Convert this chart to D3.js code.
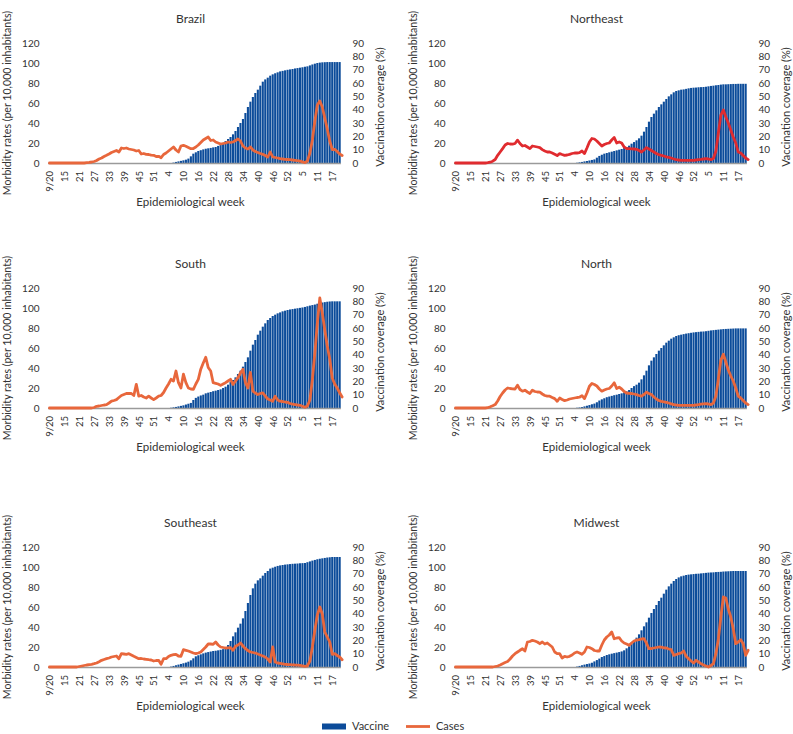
<!DOCTYPE html>
<html><head><meta charset="utf-8">
<script src="https://cdn.jsdelivr.net/npm/d3@7"></script>
<style>
body{margin:0;background:#fff;}
svg text{font-family:Lato,"Noto Sans",sans-serif;fill:#333;}
</style></head>
<body><svg id="c" width="793" height="734"></svg>
<script>
// ---- DATA ----
const weekLabels = ["9/20","15","21","27","33","39","45","51","4","10","16","22","28","34","40","46","52","5","11","17"];
const regionNames = ["Brazil","Northeast","South","North","Southeast","Midwest"];
const z = n => Array(n).fill(0);

const brazilCases = [...z(15),
 0.3,0.6,1,1.5,2.5,4,5,6.5,7.7,9,10.5,11.5,12.5,11,15,14.5,15,14,13.5,13,12,12.5,9,9.5,8.7,8.5,7.8,7.7,6.5,6.7,
 5.3,8.5,10,12,14,16,13,11,17,17.7,16.7,15.5,14.3,14.5,16,18,20.5,23,24.5,26,22.5,23,21,20,19,19.5,20,21,20.5,21,
 22.5,24,22,17,15,14,16,13,11.5,10.5,9.5,8.7,7.5,6,11,6,5.5,5,4.3,4,3.7,3.5,3.3,3,2.7,2.3,2,1.2,0.3,2,
 10,23,42,58,62,56,45,34,22,13.5,13.7,11.5,9,7.5];
const brazilVaccine = [...z(50),
 0.3,0.8,1.2,1.6,2,2.5,3.3,5,7,8,
 9,9.6,10.2,10.7,11,11.3,11.7,12,12.8,13.7,
 15,16.5,18,19.5,21.5,24,27,30,33,37.5,
 42,46,49.5,52.5,55,58,61,62.7,64,65.5,
 66.5,67.3,68,68.7,69.1,69.5,69.9,70.2,70.5,70.9,
 71.2,71.5,71.8,72.2,72.5,73.2,73.9,74.5,75,75.3,
 75.5,75.6,75.7,75.7,75.7,75.7,75.7,75.7];

const northeastCases = [...z(13),
 0.3,0.8,1.8,3.5,7.7,11,14.4,18,19.5,19,18.8,19.5,22.8,19.5,17,17.5,16,14.4,17,16.5,16,15.4,13.4,12,11,11,10,8.7,7.4,9.4,
 8.5,7.7,8,8.7,9.5,10,10,10.4,12,9.4,15,21,24.5,24,22,19.5,17,18.5,19.5,20,23,25.5,20,21,20,16,14.4,14.4,14.2,14,
 13.7,12.5,11,13,15.4,14,12.5,11,9.5,8.4,7.7,7,6.2,5.6,5,4,3.4,3,2.7,2.7,2.7,2.7,2.7,2.7,3,3.3,3.6,4,4.4,4,
 3.4,4.5,12,30,48,53,46,40,33,26,20,11,10,7.5,5,3.4];
const northeastVaccine = [...z(49),
 0.2,0.5,0.8,1.2,1.5,1.9,2.3,2.7,4,5.3,6.2,
 7,7.5,8,8.5,9,9.5,10,10.5,11.2,12,
 13,14.5,15.7,17,18.5,20.5,23.5,27,31,34.5,
 37,39.5,42,44,46,48,50,51.5,53,54,
 54.5,55,55.2,55.6,56,56.3,56.5,56.6,56.8,56.9,
 57,57.2,57.5,57.8,58,58.3,58.5,58.8,59,59,
 59.1,59.2,59.3,59.3,59.4,59.4,59.4,59.4];

const southCases = [...z(18),
 0.5,1.7,2,2.5,3,3.4,5,6.8,7.5,8.4,10.5,12.5,13.5,14.5,14.5,14.5,12.5,23.6,11.8,12.5,11,10,11.8,10,8.4,10,11.8,12.5,15.5,20,
 24,28.7,27,37,25.3,20,33.8,25.3,20,19,18.6,24,28.7,38.8,45,50.7,40.5,37,25.3,24.7,24,22.6,24,25.3,27,28.7,23.6,27,30.4,35,
 38.8,25.3,20,35.5,16.9,15,13.5,14.5,15.2,12,9,8,6.8,11.8,8,6.8,6.5,6,5.7,4.5,3.8,3.4,3,2.7,1.8,0.7,2,8,28.7,55,
 85,110,95,78,62,49,30,24,20,15.2,11];
const southVaccine = [...z(49),
 0.2,0.5,0.8,1.2,1.6,2,2.6,3.2,3.8,6,7.6,
 8.6,9.4,10,11,11.5,12,12.6,13,13.5,14,
 15,16,17.5,19.5,21,23,25.5,28,31,34.5,
 38,43,47.5,51,55,58,61,63.5,66,67.5,
 69,70,71,71.7,72.5,73,73.5,73.9,74.2,74.5,
 74.8,75.1,75.4,75.8,76.3,76.8,77.2,77.6,78.2,78.7,
 79.1,79.4,79.7,79.9,80,80,80,80];

const northCases = [...z(13),
 0.3,1.2,2.2,3.4,7,11.5,15,18,20,19.5,19.2,19,22.8,18.5,16.8,17.8,16,14.5,17.8,16.5,16,15.8,14,12.5,11.8,11.8,10.5,9.4,6.7,10,
 8.5,7.4,8,9,9.5,10,10.5,10.8,12.4,9.4,15,21.8,24.5,23.5,22,19,16.8,18,19,19.5,22,25.2,19.5,20.8,19,16.5,15,14.7,14.5,14,
 13.4,12.5,11.8,13.5,15.8,14.5,13.4,11,9,7.5,6.7,6.2,5.7,5,4.2,3.4,3,2.7,2.7,2.7,2.7,2.7,2.7,2.7,3,3.3,3.8,4.2,4.4,4,
 3.4,5,12,29,48,53.8,46,38,32,27,20,11.8,10,7.5,5,3.4];
const northVaccine = [...z(49),
 0.2,0.4,0.7,1.2,1.7,2.2,2.8,3.3,4.3,5.6,6.5,
 7.3,8.1,8.6,9.1,9.6,10,10.5,11,11.7,12.5,
 13.5,15,16.4,17.5,19,21.5,24.5,28,32,35.5,
 38,40.5,43,45,47,49,50.5,52,53,54,
 54.6,55,55.4,55.8,56.1,56.4,56.7,56.9,57.1,57.3,
 57.4,57.6,57.9,58.2,58.4,58.6,58.8,59,59.2,59.3,
 59.4,59.5,59.6,59.7,59.7,59.7,59.7,59.7];

const southeastCases = [...z(12),
 0.5,1,1.5,2,2.4,2.7,3.3,4,5.3,6.7,7.5,8.3,9,10,10.5,11,8.3,13.3,13,12.7,13.3,12,10.7,9.5,8.3,8.5,8,7.7,7.3,7,
 6,6.5,6.7,2.7,8.3,8.3,10.5,11.7,12.3,12.7,11,10.7,17.3,16.7,16,15,14,13.3,14,15,17.5,20,23,23,22.7,25,22,20,19.5,19,
 19.2,19.3,16.7,20.7,22,24,21,18.3,16.5,15,14.5,14,13,12,11,10,8,5,20,5,4,3.6,3.2,2.7,2.5,2.4,2.2,2,1.9,1.7,
 1.2,0.7,1.2,6,20,37,52,60,53,35,30,25,12.7,13.3,11.5,10,7.3];
const southeastVaccine = [...z(49),
 0.3,0.8,1.3,1.8,2.3,2.8,3.3,4,5,6.5,8,
 8.8,9.5,10.2,10.8,11.2,11.6,12,12.2,12.5,12.9,
 13.4,14,16.5,19.5,23,26,29.5,32.5,36.5,42,
 48,54,59,62.5,65,66.5,68.5,70.5,72,73.8,
 74.5,75.2,75.8,76.2,76.5,76.8,77,77.2,77.4,77.5,
 77.6,77.8,77.9,78,78.6,79.2,79.8,80.3,80.8,81.2,
 81.5,81.8,82.1,82.3,82.5,82.5,82.5,82.5];

const midwestCases = [...z(16),
 0.5,1,2,3.3,4.5,5.5,8,11,13.3,15,16.7,18.3,16,25,25.5,26.7,26,25,23.3,25,23,24,22,20,15,13.3,13.3,9,10.7,10,
 10.7,12,14,15,14,12.7,15,20,19.5,18.3,16.5,16,16,22,27,30,32,35,28.3,29,29.3,26,24,23,21.7,24,26,27,27.3,28,
 28.3,24,18.3,18.5,19,19.5,20,19.8,19.2,19,18,17.3,11.7,12.5,13.3,14,16,10.7,8.3,6,4,6.7,5,3.3,2,1,0,1.5,3.3,13.3,
 28,50,70,69,58,50,38.3,23.3,25,27.3,23.3,11.7,16.7];
const midwestVaccine = [...z(49),
 0.3,0.8,1.3,1.8,2.2,2.6,3.2,4.2,5.2,6.3,7.5,
 8.2,9,9.5,10,10.4,10.8,11.2,11.7,12.5,14,
 15.5,17.5,19.5,22,24.5,27.5,30.5,33.5,37,40.5,
 43.5,46.5,49.5,52,55,58,60.5,62.5,64.5,66,
 67.2,68,68.5,69,69.3,69.5,69.7,69.9,70,70.2,
 70.4,70.6,70.8,70.9,71,71.2,71.3,71.4,71.6,71.7,
 71.8,71.9,72,72,72,72,72,72];

const casesSeries = [brazilCases, northeastCases, southCases, northCases, southeastCases, midwestCases];
const vaccineSeries = [brazilVaccine, northeastVaccine, southVaccine, northVaccine, southeastVaccine, midwestVaccine];
const lineColors = ["#e8673c","#e02b2f","#e8673c","#e8673c","#e8673c","#e8673c"];
const leftTicks = [0,20,40,60,80,100,120];
const rightTicks = [0,10,20,30,40,50,60,70,80,90];

// ---- LAYOUT ----
const svg = d3.select("#c");
const colX0 = [49.5, 455.5];
const rowY0 = [163, 408, 667];
const step = 2.48;
const plotH = 120;
const barColor = "#0c4c9a";

regionNames.forEach((name, k) => {
  const col = k % 2, row = Math.floor(k / 2);
  const x0 = colX0[col], Y0 = rowY0[row];
  const g = svg.append("g");
  const x = d3.scaleLinear().domain([0, 114]).range([x0, x0 + 114 * step]);
  const yL = d3.scaleLinear().domain([0, 120]).range([Y0, Y0 - plotH]);
  const yR = d3.scaleLinear().domain([0, 90]).range([Y0, Y0 - plotH]);
  const vac = vaccineSeries[k], cas = casesSeries[k];

  // title
  g.append("text").attr("x", x0 + 141).attr("y", Y0 - 144).attr("dy", "0.35em")
    .attr("text-anchor", "middle").style("font-size", "12px").text(name);

  // bars
  const bw = step * 0.84;
  g.append("g").selectAll("rect").data(vac).join("rect")
    .attr("x", (d, i) => x(i) - bw / 2).attr("width", bw)
    .attr("y", d => yR(d)).attr("height", d => Y0 - yR(d))
    .attr("fill", barColor);

  // baseline
  g.append("line").attr("x1", x(-0.6)).attr("x2", x(vac.length - 0.5))
    .attr("y1", Y0 + 0.5).attr("y2", Y0 + 0.5).attr("stroke", "#9a9a9a").attr("stroke-width", 1.5);

  // line
  const line = d3.line().x((d, i) => x(i)).y(d => yL(d)).curve(d3.curveLinear);
  g.append("path").datum(cas).attr("d", line).attr("fill", "none")
    .attr("stroke", lineColors[k]).attr("stroke-width", 2.8)
    .attr("stroke-linejoin", "round").attr("stroke-linecap", "round");

  // left axis
  const la = g.append("g").attr("transform", `translate(${x0 - 4},0)`)
    .call(d3.axisLeft(yL).tickValues(leftTicks).tickSize(0).tickPadding(6));
  la.select(".domain").remove();
  la.selectAll("text").style("font-size", "10px").style("font-family", "Lato,sans-serif").attr("fill", "#333");

  // right axis
  const ra = g.append("g").attr("transform", `translate(${x0 + 297},0)`)
    .call(d3.axisRight(yR).tickValues(rightTicks).tickSize(0).tickPadding(6));
  ra.select(".domain").remove();
  ra.selectAll("text").style("font-size", "10px").style("font-family", "Lato,sans-serif").attr("fill", "#333");

  // x axis
  const xa = g.append("g").attr("transform", `translate(0,${Y0})`)
    .call(d3.axisBottom(x).tickValues(d3.range(0, 115, 6)).tickSize(0)
      .tickFormat((d, i) => weekLabels[i]));
  xa.select(".domain").remove();
  xa.selectAll("text").attr("transform", "rotate(-90)").attr("x", -8).attr("y", 0)
    .attr("dy", "0.35em").attr("text-anchor", "end")
    .style("font-size", "9.5px").style("font-family", "Lato,sans-serif").attr("fill", "#333");

  // axis titles
  g.append("text").attr("transform", `translate(${x0 - 42.5},${Y0 - 60}) rotate(-90)`)
    .attr("dy", "0.35em").attr("text-anchor", "middle").style("font-size", "10.6px")
    .text("Morbidity rates (per 10,000 inhabitants)");
  g.append("text").attr("transform", `translate(${x0 + 331},${Y0 - 56}) rotate(-90)`)
    .attr("dy", "0.35em").attr("text-anchor", "middle").style("font-size", "11px")
    .text("Vaccination coverage (%)");
  g.append("text").attr("x", x0 + 141).attr("y", Y0 + 39).attr("dy", "0.35em")
    .attr("text-anchor", "middle").style("font-size", "11.5px").text("Epidemiological week");
});

// legend
const lg = svg.append("g");
const legY = 726.5;
lg.append("rect").attr("x", 322).attr("y", legY - 3).attr("width", 24).attr("height", 6).attr("fill", barColor);
lg.append("text").attr("x", 352).attr("y", legY).attr("dy", "0.35em").style("font-size", "11px").text("Vaccine");
lg.append("line").attr("x1", 406).attr("x2", 430).attr("y1", legY).attr("y2", legY)
  .attr("stroke", lineColors[0]).attr("stroke-width", 2.8);
lg.append("text").attr("x", 436).attr("y", legY).attr("dy", "0.35em").style("font-size", "11px").text("Cases");
</script></body></html>
